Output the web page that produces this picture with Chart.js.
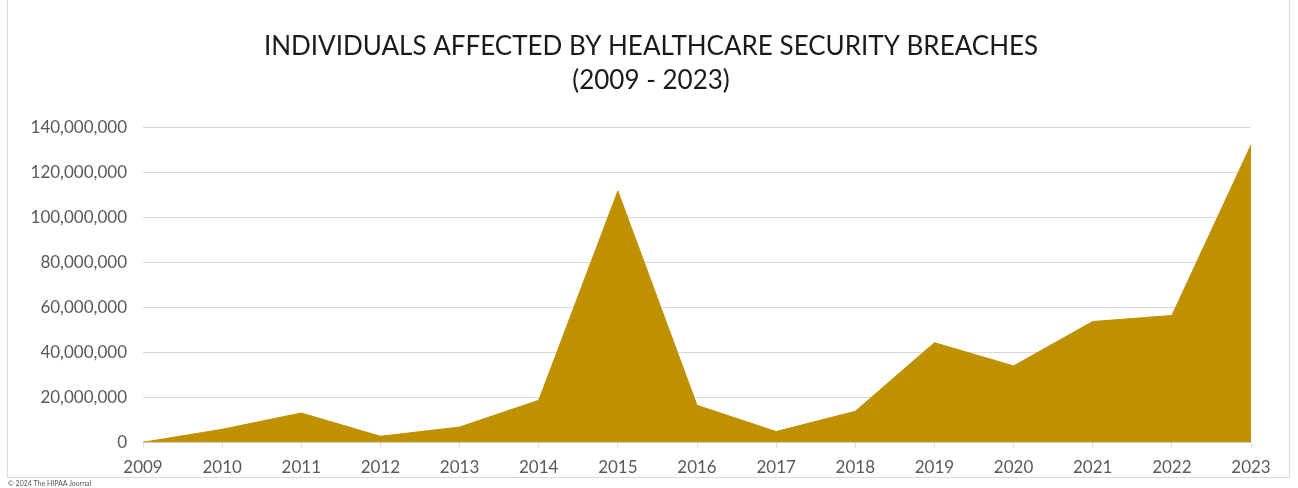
<!DOCTYPE html>
<html>
<head>
<meta charset="utf-8">
<script src="https://cdn.jsdelivr.net/npm/chart.js@4"></script>
<style>
  html, body { margin: 0; padding: 0; background: #fff; }
  #wrap { position: relative; width: 1298px; height: 488px; }
  #frame { position: absolute; left: 7px; top: -1px; width: 1283px; height: 479px; border: 1px solid #d9d9d9; box-sizing: border-box; }
  #copy { position: absolute; left: 8px; top: 479px; font: 7px Lato, sans-serif; color: #555; }
</style>
</head>
<body>
<div id="wrap">
  <div id="frame"></div>
  <canvas id="myChart" width="1298" height="488"></canvas>
  <div id="copy">© 2024 The HIPAA Journal</div>
</div>
<script>
const years = ['2009', '2010', '2011', '2012', '2013', '2014', '2015', '2016', '2017', '2018', '2019', '2020', '2021', '2022', '2023'];
const affected = [134773, 5900000, 13150000, 2800000, 6900000, 18800000, 111800000, 16600000, 4900000, 13900000, 44400000, 34100000, 53800000, 56500000, 132300000];
const titleLines = ['INDIVIDUALS AFFECTED BY HEALTHCARE SECURITY BREACHES', '(2009 - 2023)'];

// the original title sits a little right of the canvas centre
const shiftTitle = {
  id: 'shiftTitle',
  afterLayout(chart) {
    if (chart.titleBlock) chart.titleBlock.left += 36;
  }
};

function plotarGrafico() {
  const ctx = document.getElementById('myChart');
  new Chart(ctx, {
    type: 'line',
    data: {
      labels: years,
      datasets: [{
        label: 'Individuals affected',
        data: affected,
        fill: 'origin',
        backgroundColor: '#BF9000',
        borderColor: '#BF9000',
        borderWidth: 1,
        pointRadius: 0,
        tension: 0
      }]
    },
    options: {
      responsive: false,
      animation: false,
      layout: {
        padding: { left: 15, right: 47, top: 10, bottom: 0 }
      },
      scales: {
        x: {
          offset: false,
          grid: {
            drawOnChartArea: false,
            drawTicks: true,
            tickLength: 5,
            color: '#d9d9d9'
          },
          border: { color: '#d9d9d9' },
          ticks: {
            color: '#595959',
            font: { family: 'Lato', size: 17 },
            padding: 10,
            maxRotation: 0
          }
        },
        y: {
          min: 0,
          max: 140000000,
          afterFit: scale => { scale.width = 128; },
          grid: {
            color: '#d9d9d9',
            drawTicks: false
          },
          border: { display: false },
          ticks: {
            stepSize: 20000000,
            color: '#595959',
            font: { family: 'Lato', size: 17 },
            padding: 16,
            callback: v => v.toLocaleString('en-US')
          }
        }
      },
      plugins: {
        legend: { display: false },
        tooltip: { enabled: false },
        title: {
          display: true,
          text: titleLines,
          color: '#1a1a1a',
          font: { family: 'Lato', size: 26, weight: 'normal', lineHeight: 1.3 },
          padding: { top: 20, bottom: 30 }
        }
      }
    },
    plugins: [shiftTitle]
  });
}
plotarGrafico();
</script>
</body>
</html>
